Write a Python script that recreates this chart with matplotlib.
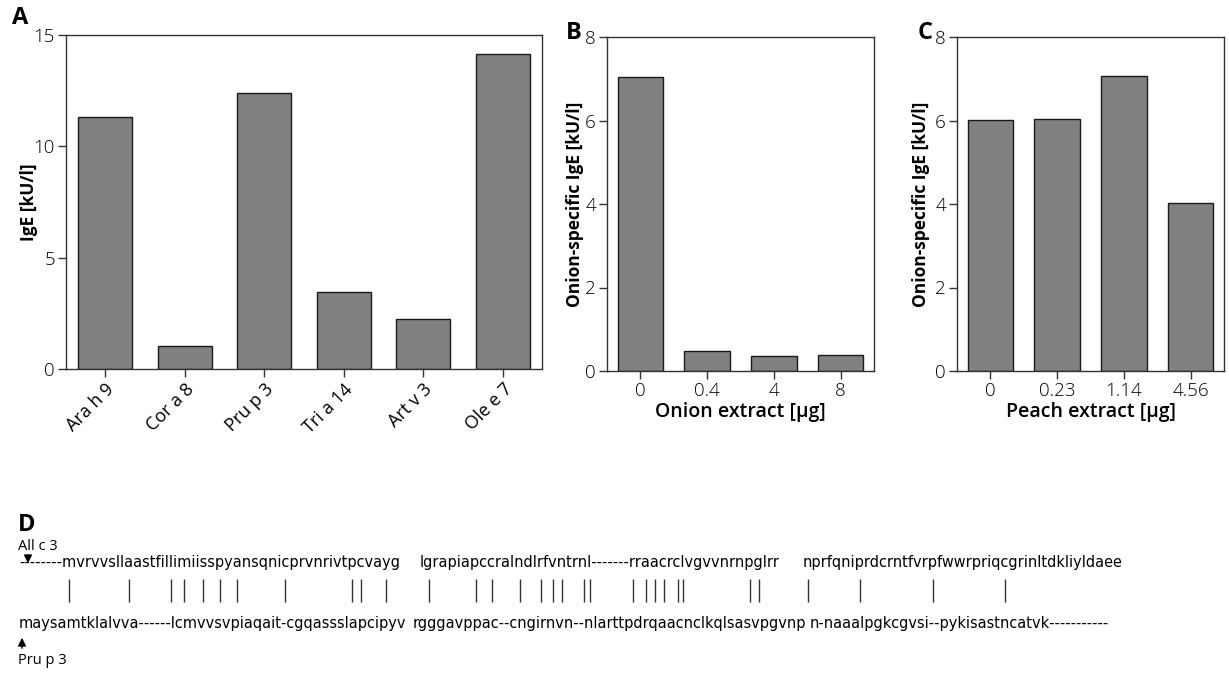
import matplotlib
matplotlib.use("Agg")
import matplotlib.pyplot as plt
from matplotlib import font_manager
from matplotlib.font_manager import FontProperties

# panel A: IgE to single allergens
allergens = ["Ara h 9", "Cor a 8", "Pru p 3", "Tri a 14", "Art v 3", "Ole e 7"]
ige_values = [11.3, 1.05, 12.4, 3.45, 2.25, 14.15]

# panel B: inhibition with onion extract
onion_doses = ["0", "0.4", "4", "8"]
onion_ige = [7.05, 0.48, 0.37, 0.39]

# panel C: inhibition with peach extract
peach_doses = ["0", "0.23", "1.14", "4.56"]
peach_ige = [6.02, 6.04, 7.06, 4.03]

# panel D: sequence alignment, split in three blocks
top_name = "All c 3"
bottom_name = "Pru p 3"
top_blocks = [
    "--------mvrvvsllaastfillimiisspyansqnicprvnrivtpcvayg",
    "lgrapiapccralndlrfvntrnl-------rraacrclvgvvnrnpglrr",
    "nprfqniprdcrntfvrpfwwrpriqcgrinltdkliyldaee",
]
bottom_blocks = [
    "maysamtklalvva------lcmvvsvpiaqait-cgqassslapcipyv",
    "rgggavppac--cngirnvn--nlarttpdrqaacnclkqlsasvpgvnp",
    "n-naaalpgkcgvsi--pykisastncatvk-----------",
]
# positions (in the top block strings) of identical residues
identity_marks = [
    [8, 16, 23, 25, 28, 30, 32, 38, 47, 48, 51],
    [1, 7, 9, 13, 16, 18, 19, 22, 23, 31, 33, 34, 35, 37, 38, 46, 47],
    [0, 7, 17, 26],
]


def has_font(fp, key=None):
    try:
        path = font_manager.findfont(fp, fallback_to_default=False)
    except ValueError:
        return None
    if key and key not in path.lower():
        return None
    return path


def pick_seq_font(size):
    options = [
        ("DejaVu Sans", "condensed", "condensed"),
        ("Noto Sans", "condensed", "condensed"),
    ]
    for fam, stretch, key in options:
        fp = FontProperties(family=fam, stretch=stretch, size=size)
        if has_font(fp, key):
            return fp
    return FontProperties(family="DejaVu Sans", size=size * 0.9)


W, H = 1229, 677
plt.rcParams["font.family"] = ["Open Sans", "DejaVu Sans"]
plt.rcParams["font.weight"] = "light"

fig = plt.figure(figsize=(W / 100, H / 100), dpi=100)


def box(left, top, right, bottom):
    return [left / W, 1 - bottom / H, (right - left) / W, (bottom - top) / H]


seq_font = pick_seq_font(11.6)

# panel D drawn on a pixel-scaled overlay
axd = fig.add_axes([0, 0, 1, 1])
axd.set_xlim(0, W)
axd.set_ylim(H, 0)
axd.axis("off")

top_x = [19, 420, 803]
bottom_x = [19, 413, 810]
top_y, bottom_y = 567, 628
renderer = fig.canvas.get_renderer()


def width(s):
    if not s:
        return 0.0
    w, h, d = renderer.get_text_width_height_descent(s, seq_font, ismath=False)
    return w


pipe_x = []
for x0, top, marks in zip(top_x, top_blocks, identity_marks):
    axd.text(x0, top_y, top, fontproperties=seq_font, va="baseline", ha="left")
    for k in marks:
        pipe_x.append(x0 + (width(top[:k]) + width(top[:k + 1])) / 2)
for x0, bottom in zip(bottom_x, bottom_blocks):
    axd.text(x0, bottom_y, bottom, fontproperties=seq_font, va="baseline", ha="left")
axd.vlines(pipe_x, 579, 602, color="#333333", lw=1)

axd.text(18, 546, top_name, fontsize=10.5, va="center", ha="left", weight="normal")
axd.text(18, 661, bottom_name, fontsize=10.5, va="center", ha="left", weight="normal")
axd.annotate("", xy=(28, 566), xytext=(28, 553),
             arrowprops=dict(arrowstyle="-|>", color="black", lw=1, mutation_scale=12))
axd.annotate("", xy=(22, 635), xytext=(22, 651),
             arrowprops=dict(arrowstyle="-|>", color="black", lw=1, mutation_scale=12))
axd.text(18, 525, "D", fontsize=17, weight="bold", va="center", ha="left")


def bar_panel(ax, labels, values, ymax, yticks):
    pos = list(range(len(values)))
    ax.bar(pos, values, width=0.68, color="#808080", edgecolor="#1a1a1a", linewidth=1)
    ax.set_xlim(-0.5, len(values) - 0.5)
    ax.set_ylim(0, ymax)
    ax.set_yticks(yticks)
    ax.set_xticks(pos)
    ax.set_xticklabels(labels)
    ax.tick_params(direction="out", length=6, width=1, labelsize=13.5, pad=2,
                   color="#333333")
    for s in ax.spines.values():
        s.set_linewidth(1)
        s.set_color("#333333")


axA = fig.add_axes(box(66, 35, 542, 369))
bar_panel(axA, allergens, ige_values, 15, [0, 5, 10, 15])
axA.set_xlim(-0.49, 5.49)
for lab in axA.get_xticklabels():
    lab.set_rotation(45)
    lab.set_ha("right")
    lab.set_rotation_mode("anchor")
    lab.set_fontsize(13)
    lab.set_fontweight("normal")
axA.set_ylabel("IgE [kU/l]", fontsize=12.5, weight="bold", labelpad=-3)

axB = fig.add_axes(box(607, 37, 874, 371))
bar_panel(axB, onion_doses, onion_ige, 8, [0, 2, 4, 6, 8])
axB.set_ylabel("Onion-specific IgE [kU/l]", fontsize=12.5, weight="bold", labelpad=1)
axB.set_xlabel("Onion extract [\u03bcg]", fontsize=14, weight="semibold", labelpad=1)

axC = fig.add_axes(box(957, 37, 1224, 371))
bar_panel(axC, peach_doses, peach_ige, 8, [0, 2, 4, 6, 8])
axC.set_ylabel("Onion-specific IgE [kU/l]", fontsize=12.5, weight="bold", labelpad=4)
axC.set_xlabel("Peach extract [\u03bcg]", fontsize=14, weight="semibold", labelpad=1)

fig.text(12 / W, 1 - 18 / H, "A", fontsize=17, weight="bold", va="center", ha="left")
fig.text(566 / W, 1 - 33 / H, "B", fontsize=17, weight="bold", va="center", ha="left")
fig.text(918 / W, 1 - 33 / H, "C", fontsize=17, weight="bold", va="center", ha="left")

fig.savefig("out.png", dpi=100)
